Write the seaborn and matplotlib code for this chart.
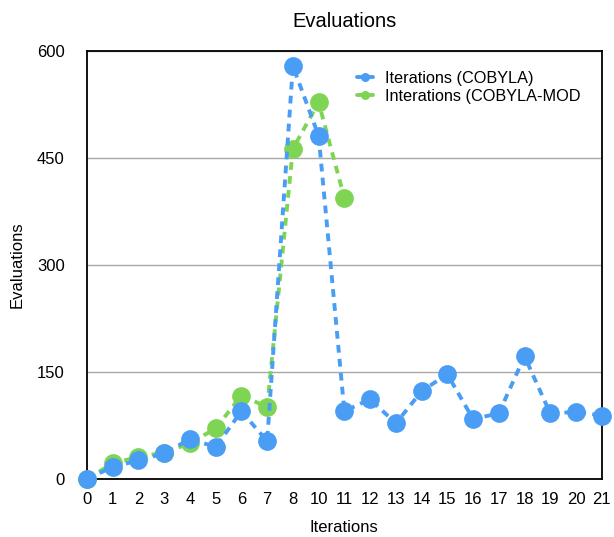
import matplotlib
matplotlib.use("Agg")
import matplotlib.pyplot as plt
from matplotlib.lines import Line2D
import seaborn as sns
import pandas as pd

categories = ["0", "1", "2", "3", "4", "5", "6", "7", "8", "10", "11", "12",
              "13", "14", "15", "16", "17", "18", "19", "20", "21"]
cobyla = [0, 17, 26, 36, 56, 45, 95, 53, 579, 481, 95, 112, 78, 123, 147, 84, 92, 172, 92, 94, 89]
cobyla_mod_cats = ["0", "1", "2", "3", "4", "5", "6", "7", "8", "10", "11"]
cobyla_mod = [0, 22, 31, 37, 50, 71, 117, 101, 463, 528, 394]

series_names = ["Iterations (COBYLA)", "Interations (COBYLA-MOD"]
colors = ["#4A9DF4", "#7ED554"]
y_ticks = [0, 150, 300, 450, 600]

df_blue = pd.DataFrame({"Iterations": pd.Categorical(categories, categories=categories),
                        "Evaluations": cobyla})
df_green = pd.DataFrame({"Iterations": pd.Categorical(cobyla_mod_cats, categories=categories),
                         "Evaluations": cobyla_mod})

sns.set_style("white")
plt.rcParams["font.family"] = ["Liberation Sans", "DejaVu Sans"]
plt.rcParams["text.color"] = "black"
plt.rcParams["axes.labelcolor"] = "black"
plt.rcParams["xtick.color"] = "black"
plt.rcParams["ytick.color"] = "black"

fig = plt.figure(figsize=(6.14, 5.37), dpi=100)
ax = fig.add_axes([0.1417, 0.108, 0.8383, 0.797])

common = dict(marker="o", markersize=13.5, markeredgewidth=0, linewidth=2.8,
              linestyle=(0, (2, 1.6)), sort=False, ax=ax, legend=False)
sns.lineplot(data=df_green, x="Iterations", y="Evaluations", color=colors[1], **common)
sns.lineplot(data=df_blue, x="Iterations", y="Evaluations", color=colors[0], **common)
for ln in ax.lines:
    ln.set_clip_on(False)
    ln.set_zorder(3)

ax.set_xticks(range(len(categories)))
ax.set_xticklabels(categories)
ax.set_ylim(0, 600)
ax.set_xlim(0, len(categories) - 1)
ax.set_yticks(y_ticks)
ax.set_yticklabels([str(t) for t in y_ticks])
ax.tick_params(axis="x", labelsize=12, length=0, pad=9, labelcolor="black")
ax.tick_params(axis="y", labelsize=12, length=0, pad=16, labelcolor="black")
ax.yaxis.grid(True, color="#a8a8a8", linewidth=1)
ax.xaxis.grid(False)
ax.set_axisbelow(True)
for s in ax.spines.values():
    s.set_color("black")
    s.set_linewidth(1.3)
    s.set_zorder(2.5)
ax.set_title("Evaluations", fontsize=14.5, pad=17, color="black")
ax.set_xlabel("Iterations", fontsize=12, labelpad=10, color="black")
ax.set_ylabel("Evaluations", fontsize=12, labelpad=8.6, color="black")

handles = [Line2D([], [], color=c, linewidth=2.8, marker="o", markersize=6.5,
                  markeredgewidth=0) for c in colors]
leg = ax.legend(handles, series_names, loc="upper left", bbox_to_anchor=(0.524, 0.953),
                frameon=False, fontsize=11.7, handlelength=1.0, handletextpad=0.75,
                labelspacing=0.15, borderpad=0, borderaxespad=0)
for t in leg.get_texts():
    t.set_color("black")

fig.savefig("out.png", dpi=100)
